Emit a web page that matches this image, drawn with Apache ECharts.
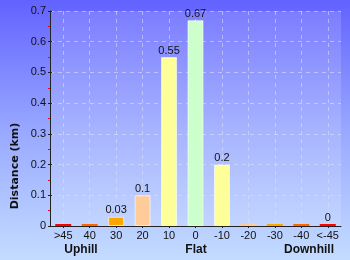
<!DOCTYPE html>
<html><head><meta charset="utf-8">
<script src="https://cdn.jsdelivr.net/npm/echarts@6/dist/echarts.min.js"></script>
<style>html,body{margin:0;padding:0}#c{width:350px;height:260px}</style>
</head><body><div id="c"></div>
<script>
const categories = ['>45','40','30','20','10','0','-10','-20','-30','-40','<-45'];
const distances = [0.004, 0.003, 0.03, 0.1, 0.55, 0.67, 0.2, 0.002, 0.003, 0.003, 0.004];
const barColors = ['#ff0000','#ff6600','#ffa500','#ffcc99','#ffff99','#ccffcc','#ffff99','#ffcc99','#ffa500','#ff6600','#ff0000'];
const showValue = [false,false,true,true,true,true,true,false,false,false,true];
const yTicks = [0,0.1,0.2,0.3,0.4,0.5,0.6,0.7];
const yTitle = 'Distance (km)';
const groupLabels = ['Uphill','Flat','Downhill'];

const FONT = '"Liberation Sans", Arial, sans-serif';
const chart = echarts.init(document.getElementById('c'), null, {renderer:'canvas'});
const data = distances.map((v,i)=>({
  value:v,
  itemStyle:{color:barColors[i], borderWidth: v < 0.01 ? 0 : 1},
  label:{show:showValue[i]}
}));
chart.setOption({
  animation:false,
  backgroundColor:{type:'linear',x:0,y:0,x2:0,y2:1,colorStops:[
    {offset:0,color:'#6262ff'},{offset:0.5,color:'#98a8ff'},{offset:1,color:'#c4dcff'}]},
  grid:{left:50,right:9,top:11,bottom:34,show:true,backgroundColor:'rgba(255,255,255,0.14)',borderWidth:0},
  xAxis:{
    type:'category',data:categories,
    axisLine:{lineStyle:{color:'#222',width:1}},
    axisTick:{show:true,alignWithLabel:true,length:2,lineStyle:{color:'#222'}},
    axisLabel:{color:'#111',fontFamily:FONT,fontSize:11,margin:4,interval:0},
    splitLine:{show:true,alignWithLabel:true,lineStyle:{color:'rgba(225,225,240,0.55)',type:[4,4],width:1}}
  },
  yAxis:[{
    type:'value',min:yTicks[0],max:yTicks[yTicks.length-1],interval:0.1,
    axisLine:{show:true,lineStyle:{color:'#222',width:1}},
    axisTick:{show:true,length:2,lineStyle:{color:'#222'}},
    minorTick:{show:true,splitNumber:2,length:2,lineStyle:{color:'#ff0000'}},
    axisLabel:{color:'#111',fontFamily:FONT,fontSize:11,margin:4,formatter:v=>String(Math.round(v*10)/10)},
    splitLine:{show:true,lineStyle:{color:'rgba(225,225,240,0.55)',type:[4,4],width:1}}
  },{
    type:'value',min:yTicks[0],max:yTicks[yTicks.length-1],interval:0.1,position:'left',
    axisLine:{show:false},axisLabel:{show:false},splitLine:{show:false},
    axisTick:{show:true,inside:true,length:2,lineStyle:{color:'#222'}}
  }],
  series:[{
    type:'bar',data:data,barWidth:16,barMinHeight:2,
    itemStyle:{borderColor:'rgba(255,255,255,0.6)'},
    label:{position:'top',distance:1,color:'#111',fontFamily:FONT,fontSize:11,
      formatter:p=>String(Math.round(p.value*100)/100)}
  }],
  graphic:[
    {type:'text',x:15,y:166,rotation:Math.PI/2,style:{text:yTitle,font:'bold 11px "DejaVu Sans", sans-serif',fill:'#111',align:'center',verticalAlign:'middle'}},
    {type:'text',x:81,y:250,style:{text:groupLabels[0],font:'bold 12px '+FONT,fill:'#111',align:'center',verticalAlign:'middle'}},
    {type:'text',x:196,y:250,style:{text:groupLabels[1],font:'bold 12px '+FONT,fill:'#111',align:'center',verticalAlign:'middle'}},
    {type:'text',x:309,y:250,style:{text:groupLabels[2],font:'bold 12px '+FONT,fill:'#111',align:'center',verticalAlign:'middle'}}
  ]
});
</script></body></html>
